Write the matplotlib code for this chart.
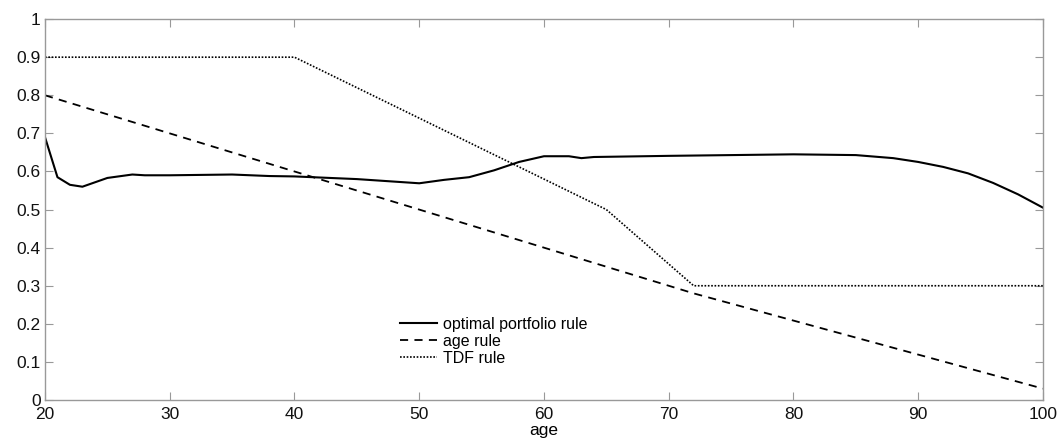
import numpy as np
import matplotlib
matplotlib.use("Agg")
import matplotlib.pyplot as plt

plt.rcParams['font.family'] = ['Liberation Sans', 'DejaVu Sans']

# optimal portfolio rule
opt_age = [20, 21, 22, 23, 25, 27, 28, 30, 35, 38, 40, 45, 50, 52, 54, 56, 58,
           60, 62, 63, 64, 70, 80, 85, 88, 90, 92, 94, 96, 98, 100]
opt_val = [0.69, 0.585, 0.565, 0.56, 0.583, 0.592, 0.59, 0.59, 0.592, 0.588,
           0.587, 0.58, 0.569, 0.578, 0.585, 0.603, 0.625, 0.64, 0.64, 0.635,
           0.638, 0.641, 0.645, 0.643, 0.635, 0.625, 0.612, 0.595, 0.57, 0.54,
           0.505]

# age rule
age_age = [20, 50, 72, 100]
age_val = [0.8, 0.5, 0.28, 0.03]

# TDF rule
tdf_age = [20, 40, 65, 72, 100]
tdf_val = [0.9, 0.9, 0.5, 0.3, 0.3]

fig = plt.figure(figsize=(10.61, 4.44), dpi=100)
ax = fig.add_axes([0.0424, 0.099, 0.9406, 0.858])

ax.plot(opt_age, opt_val, '-', color='black', lw=1.5, label='optimal portfolio rule')
ax.plot(age_age, age_val, color='black', lw=1.3, linestyle=(0, (4.5, 3.5)), label='age rule')
ax.plot(tdf_age, tdf_val, color='black', lw=1.2, linestyle=(0, (1, 1)), label='TDF rule')

ax.set_xlim(20, 100)
ax.set_ylim(0, 1)
ax.set_xticks(np.arange(20, 101, 10))
ax.set_yticks(np.arange(0, 1.01, 0.1))
ax.set_yticklabels(['0', '0.1', '0.2', '0.3', '0.4', '0.5', '0.6', '0.7', '0.8', '0.9', '1'])
ax.tick_params(direction='in', top=True, right=True, length=6, width=0.8,
               color='#999999', labelsize=12.5, labelcolor='#111111', pad=3)
ax.tick_params(axis='x', pad=5)
for s in ax.spines.values():
    s.set_color('#999999')
    s.set_linewidth(1.0)
ax.set_xlabel('age', fontsize=12.5, labelpad=1)

ax.legend(loc='upper left', bbox_to_anchor=(0.356, 0.218), frameon=False,
          borderpad=0, borderaxespad=0, handlelength=2.3, handletextpad=0.4,
          labelspacing=0.12, fontsize=11.5)

fig.savefig('out.png', dpi=100)
